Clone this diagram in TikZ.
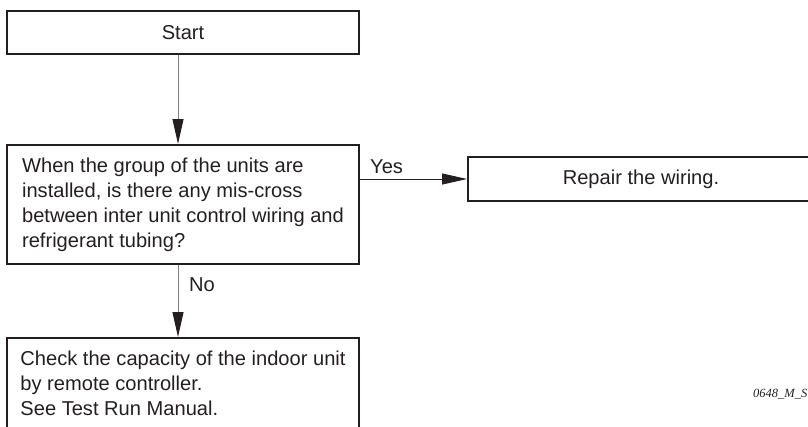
\documentclass[tikz,border=0pt]{standalone}
\usepackage{fontspec}
\setmainfont{Liberation Sans}
\newfontfamily\figserif{Liberation Serif}
\usetikzlibrary{arrows.meta, positioning, calc}
\definecolor{bInk}{HTML}{231F20}
\definecolor{aLine}{HTML}{808080}
\tikzset{
  flowbox/.style={draw=bInk, line width=2pt, anchor=north west, inner sep=0pt,
    font=\fontsize{20.1}{25}\selectfont, text=bInk},
  stepbox/.style={flowbox, minimum width=352pt, align=left},
  lbl/.style={font=\fontsize{20.1}{25}\selectfont, text=bInk, inner sep=0pt,
    anchor=base west},
  flow/.style={-{Triangle[length=25pt, width=11pt, color=bInk]}, line width=1pt},
}

\begin{document}
\begin{tikzpicture}[x=1pt, y=-1pt]
  \useasboundingbox (0,0) rectangle (808,426);
  \clip (0,0) rectangle (808,426);
  \node[flowbox, minimum width=352pt, minimum height=43pt] (start) at (6,10) {Start};
  \node[stepbox, minimum height=119pt] (dec) at (6,144)
    {When the group of the units are\\installed, is there any mis-cross\\between inter unit control wiring and\\refrigerant tubing?};
  \node[flowbox, minimum width=346pt, minimum height=44pt] (repair) at (467,156)
    {Repair the wiring.};
  \node[stepbox, minimum height=90pt] (chk) at (6,337)
    {Check the capacity of the indoor unit\\by remote controller.\\See Test Run Manual.};
  \coordinate (spine) at (178,0);
  \draw[flow, draw=aLine] (start.south -| spine) -- (dec.north -| spine);
  \draw[flow, draw=bInk] (dec.east |- repair.west) -- (repair.west);
  \draw[flow, draw=aLine] (dec.south -| spine) -- (chk.north -| spine);
  \node[lbl] (yes) at ($(dec.east |- repair.west)+(10,-5.5)$) {Yes};
  \node[lbl] (no) at ($(dec.south -| spine)+(11,26.5)$) {No};
  \node[font=\fontsize{12.5}{14}\selectfont\figserif\itshape, text=bInk, inner sep=0pt,
    anchor=base west] (tag) at (753,397) {0648\_M\_S};
\end{tikzpicture}
\end{document}
